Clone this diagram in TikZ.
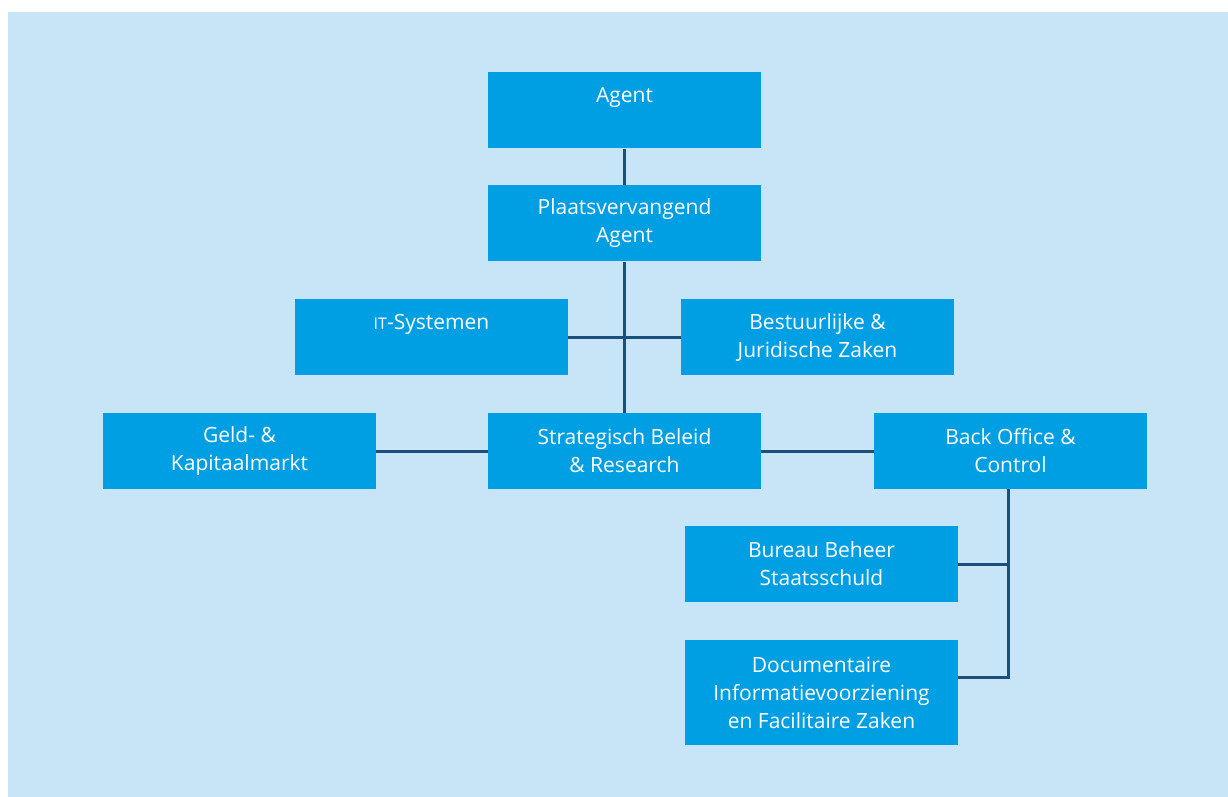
\documentclass[tikz,border=0pt]{standalone}
\usepackage{fontspec}
\setmainfont{Open Sans}
\definecolor{panelblue}{HTML}{C8E4F7}
\definecolor{boxblue}{HTML}{009FE3}
\definecolor{linenavy}{HTML}{1D4F7C}
\usetikzlibrary{positioning, calc}

\begin{document}
\begin{tikzpicture}[x=0.5pt, y=-0.5pt,
    unit/.style={fill=boxblue, text=white, minimum width=136.5pt, minimum height=38pt,
      inner sep=0pt, align=center, font=\fontsize{10.5}{14}\selectfont},
    onetop/.style={text height=7pt, text depth=15pt},
    link/.style={draw=linenavy, line width=1.5pt}]
  \useasboundingbox (0,0) rectangle (1228,797);
  \fill[panelblue] (8,12) rectangle (1228,797);

  % hierarchy
  \node[unit, onetop] (agent) at (624.5,110.5) {Agent};
  \node[unit] (plv) at (624.5,223.5) {Plaatsvervangend\\Agent};
  \node[unit, onetop] (it) at (431.5,337) {{\footnotesize IT}-Systemen};
  \node[unit] (bestuur) at (817.5,337) {Bestuurlijke \&\\Juridische Zaken};
  \node[unit] (geld) at (239.5,451) {Geld- \&\\Kapitaalmarkt};
  \node[unit] (strat) at (624.5,451) {Strategisch Beleid\\\& Research};
  \node[unit] (back) at (1010.5,451) {Back Office \&\\Control};
  \node[unit] (bureau) at (821.5,564) {Bureau Beheer\\Staatsschuld};
  \node[unit, minimum height=52.5pt] (docu) at (821.5,692.5)
    {Documentaire\\Informatievoorziening\\en Facilitaire Zaken};

  \coordinate (trunk) at ($(back.south)+(-2.5,0)$);
  \coordinate (docuin) at ($(docu.east)+(0,-15)$);

  % connectors
  \draw[link] (agent.south) -- (plv.north);
  \draw[link] (plv.south) -- (strat.north);
  \draw[link] (it.east) -- (bestuur.west);
  \draw[link] (geld.east) -- (strat.west);
  \draw[link] (strat.east) -- (back.west);
  \draw[link] (trunk) |- (bureau.east);
  \draw[link] (trunk) |- (docuin);
\end{tikzpicture}
\end{document}
